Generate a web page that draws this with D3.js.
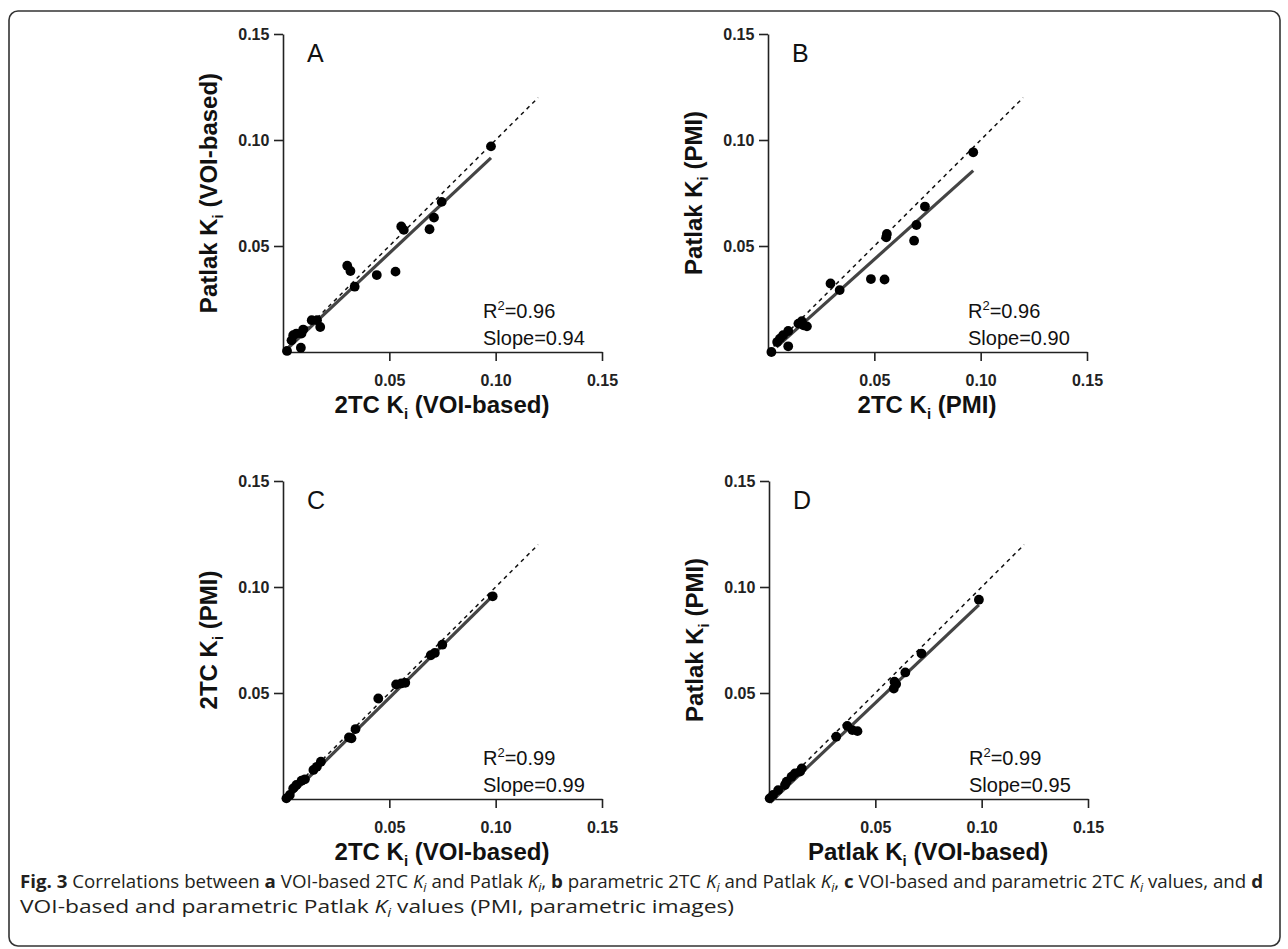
<!DOCTYPE html>
<html>
<head>
<meta charset="utf-8">
<script src="https://cdn.jsdelivr.net/npm/d3@7"></script>
<style>
  html, body { margin: 0; padding: 0; background: #fff; }
  svg { display: block; }
  .tick text { font-family: Arial, "Liberation Sans", sans-serif; font-weight: bold; font-size: 16px; fill: #222; }
  .axis path, .axis line { stroke: #222; stroke-width: 1.6px; }
</style>
</head>
<body>
<div id="chart"></div>
<script>
// values, [x, y]
const pointsA = [
  [0.0019, 0.0005], [0.0084, 0.0020], [0.0040, 0.0055], [0.0048, 0.0079], [0.0063, 0.0087],
  [0.0087, 0.0087], [0.0095, 0.0106], [0.0135, 0.0150], [0.0160, 0.0150], [0.0175, 0.0118],
  [0.0337, 0.0308], [0.0302, 0.0407], [0.0317, 0.0382], [0.0441, 0.0363], [0.0529, 0.0379],
  [0.0556, 0.0592], [0.0568, 0.0576], [0.0689, 0.0579], [0.0710, 0.0634], [0.0746, 0.0708],
  [0.0978, 0.0970]
]
const pointsB = [
  [0.0016, 0.0000], [0.0095, 0.0027], [0.0043, 0.0047], [0.0056, 0.0063], [0.0071, 0.0079],
  [0.0095, 0.0099], [0.0143, 0.0134], [0.0159, 0.0145], [0.0183, 0.0121], [0.0167, 0.0126],
  [0.0294, 0.0323], [0.0337, 0.0292], [0.0484, 0.0344], [0.0548, 0.0342], [0.0559, 0.0557],
  [0.0556, 0.0541], [0.0687, 0.0525], [0.0698, 0.0599], [0.0738, 0.0686], [0.0965, 0.0942]
]
const pointsC = [
  [0.0016, 0.0003], [0.0032, 0.0019], [0.0048, 0.0050], [0.0063, 0.0066], [0.0087, 0.0086],
  [0.0103, 0.0093], [0.0143, 0.0137], [0.0159, 0.0152], [0.0178, 0.0176], [0.0310, 0.0290],
  [0.0322, 0.0286], [0.0341, 0.0330], [0.0448, 0.0474], [0.0532, 0.0540], [0.0556, 0.0545],
  [0.0575, 0.0548], [0.0695, 0.0678], [0.0714, 0.0689], [0.0749, 0.0728], [0.0986, 0.0956]
]
const pointsD = [
  [0.0003, 0.0003], [0.0019, 0.0019], [0.0043, 0.0042], [0.0075, 0.0066], [0.0083, 0.0082],
  [0.0106, 0.0105], [0.0122, 0.0121], [0.0146, 0.0129], [0.0154, 0.0144], [0.0316, 0.0294],
  [0.0368, 0.0345], [0.0392, 0.0325], [0.0416, 0.0320], [0.0587, 0.0521], [0.0590, 0.0553],
  [0.0598, 0.0542], [0.0641, 0.0597], [0.0717, 0.0686], [0.0987, 0.0940]
]

const panelLetters = ['A', 'B', 'C', 'D']
const xLabels = [['2TC K', 'i', ' (VOI-based)'], ['2TC K', 'i', ' (PMI)'], ['2TC K', 'i', ' (VOI-based)'], ['Patlak K', 'i', ' (VOI-based)']]
const yLabels = [['Patlak K', 'i', ' (VOI-based)'], ['Patlak K', 'i', ' (PMI)'], ['2TC K', 'i', ' (PMI)'], ['Patlak K', 'i', ' (PMI)']]
const r2Values = ['0.96', '0.96', '0.99', '0.99']
const slopeValues = [0.94, 0.90, 0.99, 0.95]
const intercepts = [-0.0004, -0.0013, -0.0018, -0.0022]
const fitRanges = [[0.003, 0.0978], [0.004, 0.0965], [0.001, 0.0986], [0.0005, 0.0987]]
const identityRange = [0, 0.12]
const tickValues = [0.05, 0.10, 0.15]
const allPoints = [pointsA, pointsB, pointsC, pointsD]

const width = 1288, height = 949
const size = 318
// left / top of each plot area
const origins = [[283, 34], [768, 34], [283, 481], [769, 481]]

const svg = d3.select('#chart').append('svg')
    .attr('width', width)
    .attr('height', height)

// outer frame
svg.append('rect')
    .attr('x', 9).attr('y', 11)
    .attr('width', 1271).attr('height', 935)
    .attr('rx', 9)
    .attr('fill', 'none')
    .attr('stroke', '#333')
    .attr('stroke-width', 1.6)

function subText(sel, parts, big, small) {
  sel.append('tspan').text(parts[0])
  sel.append('tspan').attr('font-size', small).attr('dy', 6).text(parts[1])
  sel.append('tspan').attr('font-size', big).attr('dy', -6).text(parts[2])
}

allPoints.forEach((pts, i) => {
  const [ox, oy] = origins[i]
  const g = svg.append('g').attr('transform', 'translate(' + ox + ',' + oy + ')')

  const x = d3.scaleLinear().domain([0, 0.15]).range([0, size + 1])
  const y = d3.scaleLinear().domain([0, 0.15]).range([size, 0])

  g.append('g')
      .attr('class', 'axis')
      .attr('transform', 'translate(0,' + size + ')')
      .call(d3.axisBottom(x).tickValues(tickValues).tickFormat(d3.format('.2f')).tickSize(9).tickSizeOuter(0))
      .call(a => a.selectAll('.tick text').attr('dy', '1.35em'))

  g.append('g')
      .attr('class', 'axis')
      .call(d3.axisLeft(y).tickValues(tickValues).tickFormat(d3.format('.2f')).tickSize(9).tickSizeOuter(0))
      .call(a => a.selectAll('.tick text').attr('dx', '-0.1em'))

  // identity line
  const line = d3.line().x(d => x(d[0])).y(d => y(d[1]))
  g.append('path')
      .attr('d', line(identityRange.map(v => [v, v])))
      .attr('fill', 'none')
      .attr('stroke', '#111')
      .attr('stroke-width', 1.5)
      .attr('stroke-dasharray', '4,4')

  // regression line
  const fit = fitRanges[i].map(v => [v, slopeValues[i] * v + intercepts[i]])
  g.append('path')
      .attr('d', line(fit))
      .attr('fill', 'none')
      .attr('stroke', '#444')
      .attr('stroke-width', 3.2)

  g.selectAll('.dot')
    .data(pts)
    .enter()
      .append('circle')
      .attr('class', 'dot')
      .attr('cx', d => x(d[0]))
      .attr('cy', d => y(d[1]))
      .attr('r', 4.9)
      .attr('fill', '#000')

  g.append('text')
      .attr('x', 24).attr('y', 28)
      .attr('font-family', 'Arial, "Liberation Sans", sans-serif')
      .attr('font-size', 25)
      .attr('fill', '#111')
      .text(panelLetters[i])

  const stats = g.append('text')
      .attr('x', 200).attr('y', 284)
      .attr('font-family', 'Arial, "Liberation Sans", sans-serif')
      .attr('font-size', 20)
      .attr('fill', '#111')
  stats.append('tspan').text('R')
  stats.append('tspan').attr('font-size', 13).attr('dy', -8).text('2')
  stats.append('tspan').attr('dy', 8).text('=' + r2Values[i])
  g.append('text')
      .attr('x', 200).attr('y', 311)
      .attr('font-family', 'Arial, "Liberation Sans", sans-serif')
      .attr('font-size', 20)
      .attr('fill', '#111')
      .text('Slope=' + d3.format('.2f')(slopeValues[i]))

  const xl = g.append('text')
      .attr('x', size / 2).attr('y', size + 61)
      .attr('text-anchor', 'middle')
      .attr('font-family', 'Arial, "Liberation Sans", sans-serif')
      .attr('font-weight', 'bold')
      .attr('font-size', 24)
      .attr('fill', '#111')
  subText(xl, xLabels[i], 24, 15)

  const yl = g.append('text')
      .attr('transform', 'translate(-66,' + (size / 2) + ') rotate(-90)')
      .attr('text-anchor', 'middle')
      .attr('font-family', 'Arial, "Liberation Sans", sans-serif')
      .attr('font-weight', 'bold')
      .attr('font-size', 24)
      .attr('fill', '#111')
  subText(yl, yLabels[i], 24, 15)
})

// caption
const captionFont = '"Open Sans", "Noto Sans", sans-serif'
function addParts(t, parts) {
  let sub = false
  parts.forEach(p => {
    const s = t.append('tspan').text(p[0])
    if (p[1] === 'b') s.attr('font-weight', 'bold')
    if (p[1] === 'i' || p[1] === 'is') s.attr('font-style', 'italic')
    if (p[1] === 'is') { s.attr('font-size', 12).attr('dy', 4); sub = true }
    else if (sub) { s.attr('dy', -4); sub = false }
  })
}

const cap1 = svg.append('text')
    .attr('x', 20).attr('y', 888)
    .attr('font-family', captionFont)
    .attr('font-size', 18)
    .attr('fill', '#231f20')
    .attr('textLength', 1243)
    .attr('lengthAdjust', 'spacingAndGlyphs')
addParts(cap1, [
  ['Fig. 3', 'b'], [' Correlations between ', ''], ['a', 'b'], [' VOI-based 2TC ', ''], ['K', 'i'], ['i', 'is'],
  [' and Patlak ', ''], ['K', 'i'], ['i', 'is'], [', ', ''], ['b', 'b'], [' parametric 2TC ', ''], ['K', 'i'], ['i', 'is'],
  [' and Patlak ', ''], ['K', 'i'], ['i', 'is'], [', ', ''], ['c', 'b'], [' VOI-based and parametric 2TC ', ''],
  ['K', 'i'], ['i', 'is'], [' values, and ', ''], ['d', 'b']
])

const cap2 = svg.append('text')
    .attr('x', 20).attr('y', 913)
    .attr('font-family', captionFont)
    .attr('font-size', 18)
    .attr('fill', '#231f20')
    .attr('textLength', 714)
    .attr('lengthAdjust', 'spacingAndGlyphs')
addParts(cap2, [['VOI-based and parametric Patlak ', ''], ['K', 'i'], ['i', 'is'], [' values (PMI, parametric images)', '']])
</script>
</body>
</html>
